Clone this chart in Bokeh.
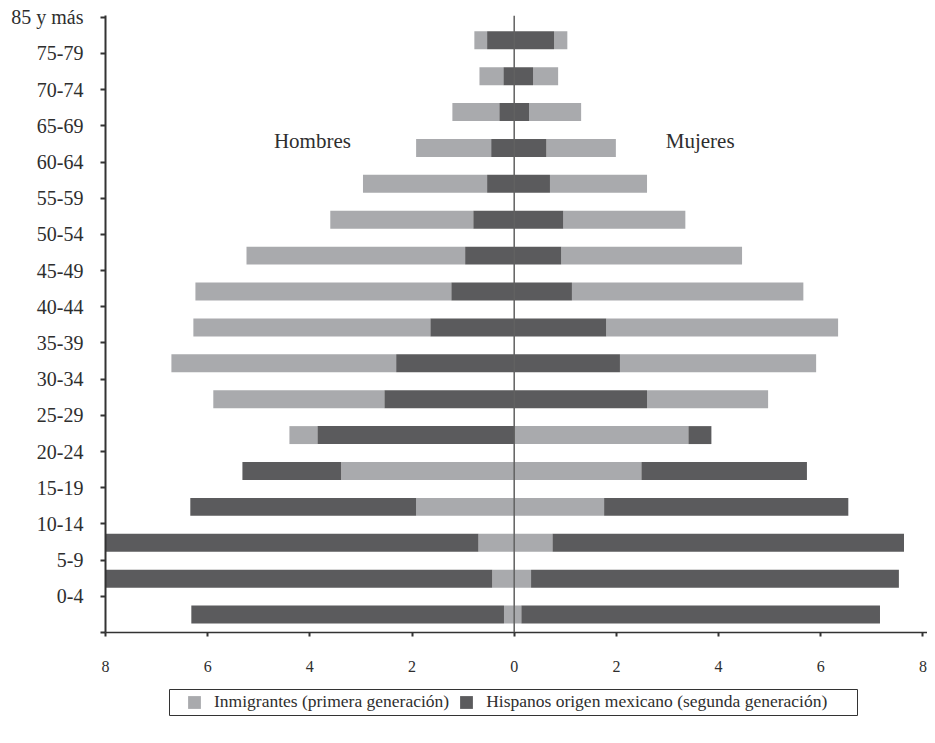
from bokeh.plotting import figure
from bokeh.layouts import column
from bokeh.models import (ColumnDataSource, Range1d, LinearAxis, FixedTicker,
                          Span, Label, Legend, LegendItem, BoxAnnotation)
from bokeh.embed import file_html
from bokeh.resources import INLINE

# ---- data (rows ordered bottom -> top) ----
etiquetas = ["0-4", "5-9", "10-14", "15-19", "20-24", "25-29", "30-34", "35-39",
             "40-44", "45-49", "50-54", "55-59", "60-64", "65-69", "70-74",
             "75-79", "85 y más"]

hombres_inmigrantes = [0.20, 0.43, 0.70, 1.92, 3.39, 0.55, 3.35, 4.40, 4.64,
                       5.01, 4.28, 2.80, 2.43, 1.47, 0.92, 0.47, 0.25]
hombres_hispanos = [6.12, 7.60, 7.32, 4.42, 1.93, 3.85, 2.54, 2.31, 1.64,
                    1.23, 0.96, 0.80, 0.53, 0.45, 0.29, 0.21, 0.53]
hombres_inm_dentro = [True, True, True, True, True, False, False, False, False,
                      False, False, False, False, False, False, False, False]

mujeres_inmigrantes = [0.14, 0.33, 0.75, 1.76, 2.49, 3.41, 2.37, 3.84, 4.54,
                       4.53, 3.54, 2.39, 1.90, 1.36, 1.02, 0.49, 0.26]
mujeres_hispanos = [7.02, 7.20, 6.88, 4.78, 3.24, 0.45, 2.60, 2.07, 1.80,
                    1.13, 0.92, 0.96, 0.70, 0.63, 0.29, 0.37, 0.78]
mujeres_inm_dentro = [True, True, True, True, True, True, False, False, False,
                      False, False, False, False, False, False, False, False]

x_ticks = [-8, -6, -4, -2, 0, 2, 4, 6, 8]
series = ["Inmigrantes (primera generación)",
          "Hispanos origen mexicano (segunda generación)"]

FONT = "Liberation Serif"
LIGHT = "#A9AAAD"
DARK = "#5B5B5D"
TXT = "#2E2E2E"

# ---- build stacked segments ----
light = dict(y=[], left=[], right=[])
dark = dict(y=[], left=[], right=[])
for i in range(len(etiquetas)):
    yc = i + 0.5
    for inm, hisp, inner_inm, sign in (
        (hombres_inmigrantes[i], hombres_hispanos[i], hombres_inm_dentro[i], -1),
        (mujeres_inmigrantes[i], mujeres_hispanos[i], mujeres_inm_dentro[i], 1),
    ):
        if inner_inm:
            seg_l = (0, inm)
            seg_d = (inm, inm + hisp)
        else:
            seg_d = (0, hisp)
            seg_l = (hisp, hisp + inm)
        for d, seg in ((light, seg_l), (dark, seg_d)):
            a, b = sign * seg[0], sign * seg[1]
            d["y"].append(yc)
            d["left"].append(min(a, b))
            d["right"].append(max(a, b))

p = figure(frame_width=822, frame_height=617, output_backend="svg",
           toolbar_location=None,
           x_range=Range1d(-8, 8.09), y_range=Range1d(0, 17.19),
           y_axis_location=None,
           min_border_left=105, min_border_right=0, min_border_top=15,
           min_border_bottom=46)
p.outline_line_color = None
p.grid.visible = False
p.background_fill_color = "white"
p.border_fill_color = "white"

p.hbar(y="y", left="left", right="right", height=0.5,
       source=ColumnDataSource(light), fill_color=LIGHT, line_color=None)
p.hbar(y="y", left="left", right="right", height=0.5,
       source=ColumnDataSource(dark), fill_color=DARK, line_color=None)

p.add_layout(Span(location=0, dimension="height", line_color="#606060",
                  line_width=1.5))

# x axis
xa = p.xaxis[0]
xa.ticker = FixedTicker(ticks=x_ticks)
xa.major_label_overrides = {t: str(abs(t)) for t in x_ticks}
xa.minor_tick_line_color = None
xa.major_tick_in = 0
xa.major_tick_out = 4
xa.major_tick_line_width = 2
xa.major_tick_line_color = "#333333"
xa.axis_line_color = "#333333"
xa.axis_line_width = 1.5
xa.major_label_standoff = 24
xa.major_label_text_font = FONT
xa.major_label_text_font_size = "16px"
xa.major_label_text_color = TXT

# y axis with age labels
p.extra_y_ranges = {"labels": Range1d(0, 17.05)}
ya = LinearAxis(y_range_name="labels",
                ticker=FixedTicker(ticks=list(range(0, len(etiquetas) + 1))))
overrides = {0: ""}
for i, lab in enumerate(etiquetas):
    overrides[i + 1] = lab
ya.major_label_overrides = overrides
ya.minor_tick_line_color = None
ya.major_tick_in = 0
ya.major_tick_out = 5
ya.major_tick_line_width = 2
ya.major_tick_line_color = "#333333"
ya.axis_line_color = "#333333"
ya.axis_line_width = 2
ya.major_label_standoff = 17
ya.major_label_text_font = FONT
ya.major_label_text_font_size = "20px"
ya.major_label_text_color = TXT
p.add_layout(ya, "left")

for txt, xv in (("Hombres", -3.95), ("Mujeres", 3.64)):
    p.add_layout(Label(x=xv, y=13.7, text=txt, text_align="center",
                       text_baseline="middle", text_font=FONT,
                       text_font_size="21px", text_color=TXT))

# ---- legend in its own strip below (swatch renderers lie outside the view) ----
LG_H = 56
lg = figure(frame_width=822, frame_height=LG_H, output_backend="svg",
            toolbar_location=None,
            x_range=Range1d(0, 822), y_range=Range1d(0, LG_H),
            x_axis_location=None, y_axis_location=None,
            min_border_left=105, min_border_right=0, min_border_top=0,
            min_border_bottom=0)
lg.outline_line_color = None
lg.grid.visible = False
lg.background_fill_color = "white"
lg.border_fill_color = "white"
sw = ColumnDataSource(dict(y=[-50], left=[0], right=[1]))
rl = lg.hbar(y="y", left="left", right="right", height=0.5, source=sw,
             fill_color=LIGHT, line_color=None)
rd = lg.hbar(y="y", left="left", right="right", height=0.5, source=sw,
             fill_color=DARK, line_color=None)
lg.add_layout(BoxAnnotation(left=64, right=752, bottom=LG_H - 37, top=LG_H - 11,
                            fill_alpha=0, line_color="#333333", line_width=1,
                            line_alpha=1))
legend = Legend(items=[LegendItem(label=series[0], renderers=[rl]),
                       LegendItem(label=series[1], renderers=[rd])],
                orientation="horizontal", location=(81, LG_H - 34),
                border_line_color=None, background_fill_alpha=0,
                label_text_font=FONT, label_text_font_size="17.5px",
                label_text_color=TXT, glyph_width=16, glyph_height=16,
                label_standoff=12, spacing=9, padding=0, margin=0,
                label_height=16)
lg.add_layout(legend, "center")

layout = column(p, lg, spacing=0)
open("out.html", "w").write(file_html(layout, INLINE))
